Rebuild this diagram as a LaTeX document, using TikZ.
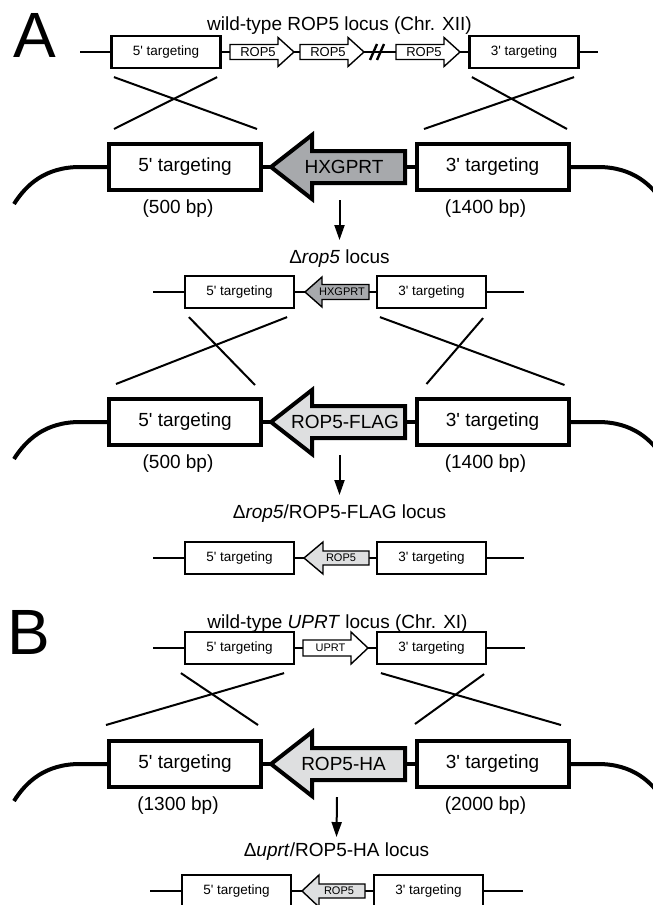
\documentclass[tikz,border=0pt]{standalone}
\usepackage{fontspec}
\setmainfont{Liberation Sans}
\usepackage{tikz}
\usetikzlibrary{arrows.meta,positioning}
\definecolor{hxgray}{HTML}{A7A9AC}
\definecolor{ropgray}{HTML}{DEDFE0}
\newcommand{\pr}{\textquotesingle}

\begin{document}
\begin{tikzpicture}[x=1pt,y=-1pt,
		every node/.style={inner sep=0pt},
		smallbox/.style={draw,line width=2.2pt,fill=white,minimum width=109pt,minimum height=32pt,font=\fontsize{13.5}{16}\selectfont},
		bigbox/.style={draw,line width=4pt,fill=white,minimum width=152pt,minimum height=46pt,font=\fontsize{19}{23}\selectfont},
		locus/.style={line width=1.6pt},
		chrom/.style={line width=4pt},
		cross/.style={line width=2pt},
		gene/.style={draw,line width=1.4pt,fill=white,miter limit=20},
		biggene/.style={draw,line width=4pt,miter limit=20},
		lbl/.style={font=\fontsize{19}{23}\selectfont},
		wttext/.style={font=\fontsize{13}{15}\selectfont},
		genetext/.style={font=\fontsize{11}{13}\selectfont},
		panel/.style={font=\fontsize{64}{70}\selectfont},
		dnarrow/.style={line width=2pt,-{Triangle[length=15pt,width=10pt]}}
	]
		\useasboundingbox (0,0) rectangle (653,905);
		\clip (0,0) rectangle (653,905);
		
		\node[panel,anchor=north west] (pa) at (13,13) {A};
		\node[lbl,anchor=base] (ttl1) at (339.5,30) {wild-type ROP5 locus (Chr. XII)};
		
		\coordinate (ea1) at (80,52);
		\coordinate (ea2) at (598,52);
		\node[smallbox] (t5a) at (166,52) {5\pr{} targeting};
		\node[smallbox] (t3a) at (524,52) {3\pr{} targeting};
		\draw[locus] (ea1) -- (t5a) -- (t3a) -- (ea2);
		\draw[gene] (230,44.5) -- ++(48,0) -- ++(0,-7) -- ++(16,14.5) -- ++(-16,14.5) -- ++(0,-7) -- ++(-48,0) -- cycle;
		\node[wttext] (r1a) at (258,52) {ROP5};
		\draw[gene] (300,44.5) -- ++(48,0) -- ++(0,-7) -- ++(16,14.5) -- ++(-16,14.5) -- ++(0,-7) -- ++(-48,0) -- cycle;
		\node[wttext] (r2a) at (328,52) {ROP5};
		\draw[gene] (396,44.5) -- ++(48,0) -- ++(0,-7) -- ++(16,14.5) -- ++(-16,14.5) -- ++(0,-7) -- ++(-48,0) -- cycle;
		\node[wttext] (r3a) at (424,52) {ROP5};
		\draw[line width=2.4pt] (370,60) -- (377,44) (377,60) -- (384,44);
		
		\node[bigbox] (b5a) at (185,167) {5\pr{} targeting};
		\node[bigbox] (b3a) at (492.5,167) {3\pr{} targeting};
		\draw[chrom] (b5a) -- (b3a);
		\draw[biggene,fill=hxgray] (405,151) -- ++(-93,0) -- ++(0,-16) -- ++(-41,32) -- ++(41,32) -- ++(0,-16) -- ++(93,0) -- cycle;
		\node[lbl] (hxa) at (344,167) {HXGPRT};
		\draw[chrom] (b5a.west) -- (80,167) .. controls (45,167) and (26,185) .. (14,204);
		\draw[chrom] (b3a.east) -- (598,167) .. controls (633,167) and (652,185) .. (664,204);
		\node[lbl,below=8pt of b5a,xshift=-7pt] (bp5a) {(500 bp)};
		\node[lbl,below=8pt of b3a,xshift=-7pt] (bp3a) {(1400 bp)};
		
		\draw[cross] ([shift={(3.5,8)}]t5a.south west) -- ([shift={(-6,-13)}]b5a.north east);
		\draw[cross] ([shift={(-4.5,8)}]t5a.south east) -- ([shift={(7,-13)}]b5a.north west);
		\draw[cross] ([shift={(3.5,8)}]t3a.south west) -- ([shift={(-3.5,-13)}]b3a.north east);
		\draw[cross] ([shift={(-5.5,8)}]t3a.south east) -- ([shift={(9.5,-13)}]b3a.north west);
		
		\coordinate (da1) at (339.5,200);
		\node[lbl,anchor=base] (ttl2) at (339.5,263) {Δ\textit{rop5} locus};
		\draw[dnarrow] (da1) -- ([yshift=9pt]ttl2.north);
		
		\coordinate (eb1) at (153,292);
		\coordinate (eb2) at (524,292);
		\node[smallbox] (s5b) at (239.5,292) {5\pr{} targeting};
		\node[smallbox] (s3b) at (431.5,292) {3\pr{} targeting};
		\draw[locus] (eb1) -- (s5b) -- (s3b) -- (eb2);
		\draw[gene,fill=hxgray] (369,284.5) -- ++(-47,0) -- ++(0,-7.5) -- ++(-17,15) -- ++(17,15) -- ++(0,-7.5) -- ++(47,0) -- cycle;
		\node[genetext] (hxb) at (342,292) {HXGPRT};
		
		\node[bigbox] (b5c) at (185,422) {5\pr{} targeting};
		\node[bigbox] (b3c) at (492.5,422) {3\pr{} targeting};
		\draw[chrom] (b5c) -- (b3c);
		\draw[biggene,fill=ropgray] (405,406) -- ++(-93,0) -- ++(0,-16) -- ++(-41,32) -- ++(41,32) -- ++(0,-16) -- ++(93,0) -- cycle;
		\node[lbl] (flc) at (345,422) {ROP5-FLAG};
		\draw[chrom] (b5c.west) -- (80,422) .. controls (45,422) and (26,440) .. (14,459);
		\draw[chrom] (b3c.east) -- (598,422) .. controls (633,422) and (652,440) .. (664,459);
		\node[lbl,below=8pt of b5c,xshift=-7pt] (bp5c) {(500 bp)};
		\node[lbl,below=8pt of b3c,xshift=-7pt] (bp3c) {(1400 bp)};
		
		\draw[cross] ([shift={(5,8)}]s5b.south west) -- ([shift={(-8,-12)}]b5c.north east);
		\draw[cross] ([shift={(-8,8)}]s5b.south east) -- ([shift={(9,-13)}]b5c.north west);
		\draw[cross] ([shift={(4,8)}]s3b.south west) -- ([shift={(-6,-12)}]b3c.north east);
		\draw[cross] ([shift={(-4,9)}]s3b.south east) -- ([shift={(12,-13)}]b3c.north west);
		
		\coordinate (da2) at (339.5,455);
		\node[lbl,anchor=base] (ttl3) at (339.5,518) {Δ\textit{rop5}/ROP5-FLAG locus};
		\draw[dnarrow] (da2) -- ([yshift=9pt]ttl3.north);
		
		\coordinate (ed1) at (153,558);
		\coordinate (ed2) at (524,558);
		\node[smallbox] (s5d) at (239.5,558) {5\pr{} targeting};
		\node[smallbox] (s3d) at (431.5,558) {3\pr{} targeting};
		\draw[locus] (ed1) -- (s5d) -- (s3d) -- (ed2);
		\draw[gene,fill=ropgray] (369,551) -- ++(-46,0) -- ++(0,-9) -- ++(-19,16) -- ++(19,16) -- ++(0,-9) -- ++(46,0) -- cycle;
		\node[genetext] (rpd) at (341,558) {ROP5};
		
		\node[panel,anchor=north west] (pb) at (7,610) {B};
		\node[lbl,anchor=base] (ttl4) at (337.5,628) {wild-type \textit{UPRT} locus (Chr. XI)};
		
		\coordinate (ee1) at (153,648);
		\coordinate (ee2) at (525,648);
		\node[smallbox] (t5e) at (239.5,648) {5\pr{} targeting};
		\node[smallbox] (t3e) at (431.5,648) {3\pr{} targeting};
		\draw[locus] (ee1) -- (t5e) -- (t3e) -- (ee2);
		\draw[gene] (303,640) -- ++(48,0) -- ++(0,-8) -- ++(17,16) -- ++(-17,16) -- ++(0,-8) -- ++(-48,0) -- cycle;
		\node[genetext] (upe) at (330.5,648) {UPRT};
		
		\node[bigbox] (b5f) at (185,764) {5\pr{} targeting};
		\node[bigbox] (b3f) at (492.5,764) {3\pr{} targeting};
		\draw[chrom] (b5f) -- (b3f);
		\draw[biggene,fill=ropgray] (405,748) -- ++(-93,0) -- ++(0,-16) -- ++(-41,32) -- ++(41,32) -- ++(0,-16) -- ++(93,0) -- cycle;
		\node[lbl] (haf) at (343.5,764) {ROP5-HA};
		\draw[chrom] (b5f.west) -- (80,764) .. controls (45,764) and (26,782) .. (14,801);
		\draw[chrom] (b3f.east) -- (598,764) .. controls (633,764) and (652,782) .. (664,801);
		\node[lbl,below=8pt of b5f,xshift=-7pt] (bp5f) {(1300 bp)};
		\node[lbl,below=8pt of b3f,xshift=-7pt] (bp3f) {(2000 bp)};
		
		\draw[cross] ([shift={(-3,8)}]t5e.south west) -- ([shift={(-5,-14)}]b5f.north east);
		\draw[cross] ([shift={(-11,8)}]t5e.south east) -- ([shift={(-1,-14)}]b5f.north west);
		\draw[cross] ([shift={(5,8)}]t3e.south west) -- ([shift={(-9.5,-14)}]b3f.north east);
		\draw[cross] ([shift={(-3,9)}]t3e.south east) -- ([shift={(0.5,-15)}]b3f.north west);
		
		\coordinate (da3) at (337,797);
		\node[lbl,anchor=base] (ttl5) at (336.5,856) {Δ\textit{uprt}/ROP5-HA locus};
		\draw[dnarrow] (da3) -- ([yshift=5pt]ttl5.north);
		
		\coordinate (eg1) at (150,891);
		\coordinate (eg2) at (523,891);
		\node[smallbox] (s5g) at (236.5,891) {5\pr{} targeting};
		\node[smallbox] (s3g) at (428.5,891) {3\pr{} targeting};
		\draw[locus] (eg1) -- (s5g) -- (s3g) -- (eg2);
		\draw[gene,fill=ropgray] (365,884) -- ++(-46,0) -- ++(0,-9) -- ++(-17,16) -- ++(17,16) -- ++(0,-9) -- ++(46,0) -- cycle;
		\node[genetext] (rpg) at (339,891) {ROP5};
	\end{tikzpicture}
\end{document}
